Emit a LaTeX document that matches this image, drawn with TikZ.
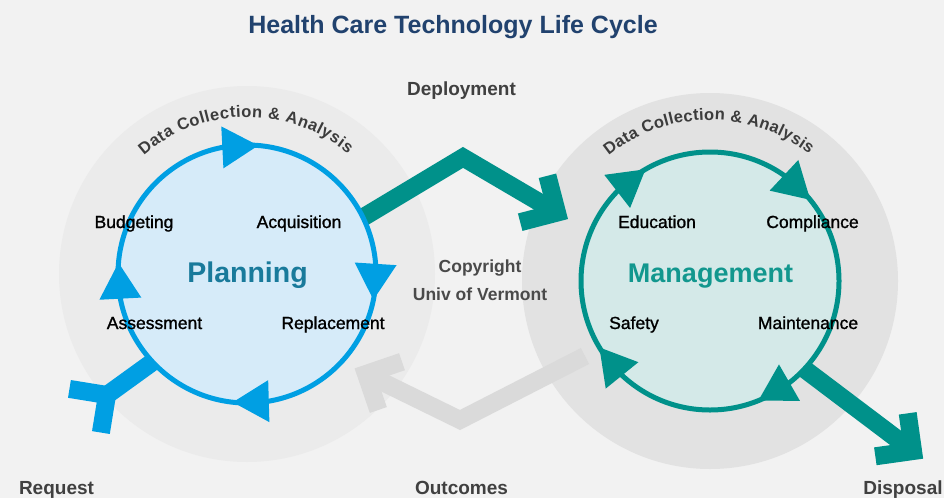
\documentclass[tikz,border=0pt]{standalone}
\usepackage{fontspec}
\setmainfont{Liberation Sans}
\newfontfamily\medfont{Liberation Sans}[FakeBold=1.2]
\usetikzlibrary{calc,decorations.text}
\definecolor{bgc}{HTML}{F2F2F2}
\definecolor{grayL}{HTML}{EBEBEB}
\definecolor{grayR}{HTML}{E2E2E2}
\definecolor{arrgray}{HTML}{DADADA}
\definecolor{pblue}{HTML}{009FE3}
\definecolor{pfill}{HTML}{D6EBF9}
\definecolor{mteal}{HTML}{00918A}
\definecolor{mfill}{HTML}{D4E9E8}
\definecolor{ptext}{HTML}{197A9B}
\definecolor{mtext}{HTML}{12978E}
\definecolor{titlec}{HTML}{21426E}
\definecolor{labc}{HTML}{404040}
\definecolor{copyc}{HTML}{4A4A4A}
\definecolor{arcc}{HTML}{3C3C3C}
\pgfdeclarelayer{bg}
\pgfsetlayers{bg,main}
\begin{document}
\begin{tikzpicture}[x=1pt,y=1pt,
  ring/.style={circle, minimum size=258pt, inner sep=0pt, outer sep=0pt, line width=5pt},
  shaft/.style={line width=18pt, line join=miter, line cap=butt},
  item/.style={anchor=base, inner sep=0pt, font=\medfont\fontsize{17.5}{20}\selectfont, text=black},
  lab/.style={anchor=base, inner sep=0pt, font=\bfseries\fontsize{19}{22}\selectfont, text=labc},
  copy/.style={anchor=base, inner sep=0pt, font=\bfseries\fontsize{17.5}{20}\selectfont, text=copyc},
  big/.style={anchor=base, inner sep=0pt},
  pics/ringarrow/.style={code={\fill[#1] (129,0) -- (144.8,38.5) -- (103.2,32.7) -- cycle;}},
  pics/chevron/.style={code={\draw[#1, line width=18pt, line join=miter, line cap=butt] (-26.9,26.9) -- (0,0) -- (-26.9,-26.9);}},
]
\useasboundingbox (0,0) rectangle (944,-498);
\begin{pgfonlayer}{bg}
\fill[bgc] (0,0) rectangle (944,-498);
\fill[grayL] (247,-274) circle[radius=188];
\fill[grayR] (710,-281) circle[radius=188];
\end{pgfonlayer}

\node[ring, draw=pblue, fill=pfill] (planning) at (247,-274) {};
\node[ring, draw=mteal, fill=mfill] (mgmt) at (710,-281) {};

\begin{pgfonlayer}{bg}
\coordinate (depPeak) at (463,-157.4);
\coordinate (depEnd) at (557,-212.6);
\draw[shaft, mteal] (planning.26) -- (depPeak) -- (depEnd);
\pic[rotate=-30.4] at (depEnd) {chevron=mteal};
\coordinate (dispEnd) at (913,-451);
\draw[shaft, mteal] (mgmt.-43) -- (dispEnd);
\pic[rotate=-37] at (dispEnd) {chevron=mteal};
\coordinate (reqEnd) at (107,-395);
\draw[shaft, pblue] (reqEnd) -- (planning.223);
\pic[rotate=35.8] at (reqEnd) {chevron=pblue};
\coordinate (outStart) at (585,-356);
\coordinate (outMid) at (460,-420);
\coordinate (outEnd) at (366,-374);
\draw[shaft, arrgray] (outStart) -- (outMid) -- (outEnd);
\pic[rotate=153.9] at (outEnd) {chevron=arrgray};
\end{pgfonlayer}

\pic[rotate=85] at (planning.center) {ringarrow=pblue};
\pic[rotate=-11.5] at (planning.center) {ringarrow=pblue};
\pic[rotate=263.7] at (planning.center) {ringarrow=pblue};
\pic[rotate=175] at (planning.center) {ringarrow=pblue};
\pic[rotate=120] at (mgmt.center) {ringarrow=mteal};
\pic[rotate=39] at (mgmt.center) {ringarrow=mteal};
\pic[rotate=-68] at (mgmt.center) {ringarrow=mteal};
\pic[rotate=211] at (mgmt.center) {ringarrow=mteal};

\path[decorate, decoration={text along path, text align={fit to path},
  text={|\bfseries\fontsize{16.5}{19}\selectfont\color{arcc}|Data Collection {\&} Analysis}}]
  ($(planning.center)+(131:157)$) arc[start angle=131, end angle=50, radius=157];
\path[decorate, decoration={text along path, text align={fit to path},
  text={|\bfseries\fontsize{16.5}{19}\selectfont\color{arcc}|Data Collection {\&} Analysis}}]
  ($(mgmt.center)+(129:161)$) arc[start angle=129, end angle=52, radius=161];

\node[anchor=base, inner sep=0pt, font=\bfseries\fontsize{25}{30}\selectfont, text=titlec] (title) at (453,-33) {Health Care Technology Life Cycle};
\node[lab] (deploy) at (461.5,-95) {Deployment};
\node[copy] (copy1) at (480,-272) {Copyright};
\node[copy] (copy2) at (480,-300) {Univ of Vermont};
\node[lab] (request) at (56.5,-494) {Request};
\node[lab] (outcomes) at (461.5,-494) {Outcomes};
\node[lab] (disposal) at (903,-494) {Disposal};

\node[big, font=\bfseries\fontsize{28.5}{32}\selectfont, text=ptext] (ptitle) at (247.5,-282) {Planning};
\node[big, font=\bfseries\fontsize{27}{32}\selectfont, text=mtext] (mtitle) at (710.5,-282) {Management};

\node[item] (budget) at (134,-228) {Budgeting};
\node[item] (acq) at (299,-228) {Acquisition};
\node[item] (assess) at (154.5,-329) {Assessment};
\node[item] (repl) at (333,-329) {Replacement};
\node[item] (edu) at (657,-228) {Education};
\node[item] (compl) at (812.5,-228) {Compliance};
\node[item] (safety) at (634,-329) {Safety};
\node[item] (maint) at (808,-329) {Maintenance};
\end{tikzpicture}
\end{document}
